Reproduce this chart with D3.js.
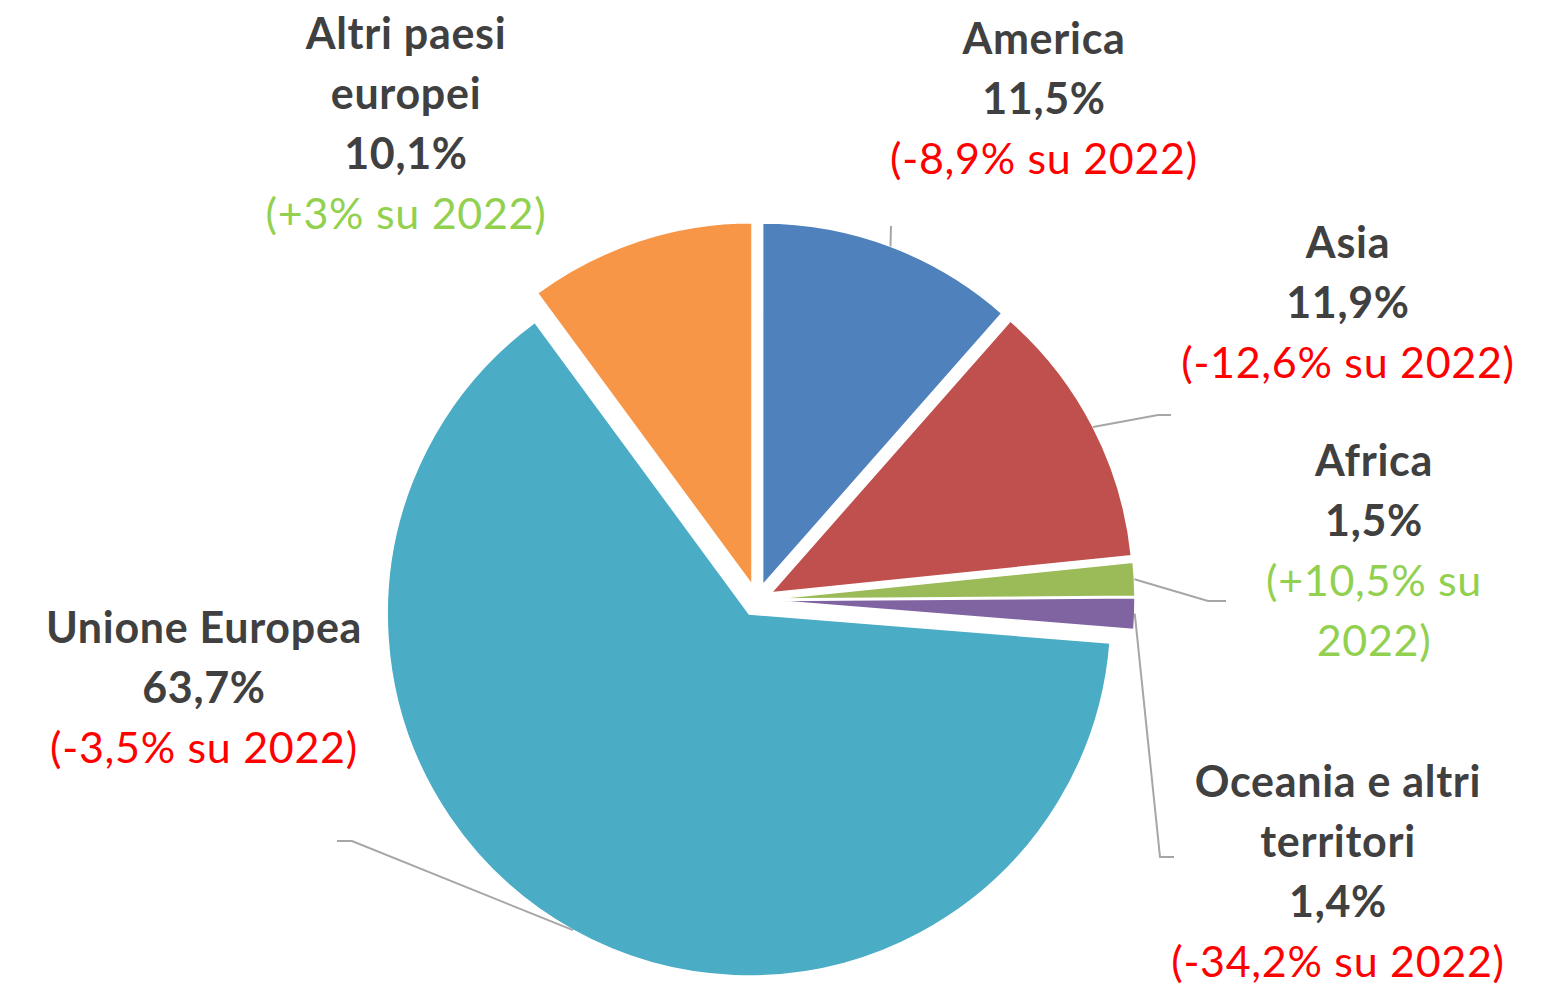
<!DOCTYPE html>
<html>
<head>
<meta charset="utf-8">
<script src="https://cdn.jsdelivr.net/npm/d3@7"></script>
<style>
  body { margin: 0; background: #fff; }
  svg { display: block; }
  text { font-family: Lato, "Open Sans", sans-serif; }
</style>
</head>
<body>
<svg id="chart" width="1560" height="985"></svg>
<script>
// data
const regions = ['America', 'Asia', 'Africa', 'Oceania e altri territori', 'Unione Europea', 'Altri paesi europei'];
const shares = [11.5, 11.9, 1.5, 1.4, 63.7, 10.1];
const changes = [-8.9, -12.6, 10.5, -34.2, -3.5, 3];
const nameLines = [['America'], ['Asia'], ['Africa'], ['Oceania e altri', 'territori'], ['Unione Europea'], ['Altri paesi', 'europei']];
const colors = ['#4f81bd', '#c0504d', '#9bbb59', '#8064a2', '#4bacc6', '#f79646'];

// layout for labels (center x, first baseline, leader elbow + end, wrap change text?)
const labelLayout = [
    { x: 1044, y: 54, elbow: [891, 226], end: [891, 226] },
    { x: 1348, y: 258, elbow: [1158, 415], end: [1171, 415] },
    { x: 1374, y: 476, elbow: [1208, 601], end: [1226, 601], wrap: true },
    { x: 1338, y: 797, elbow: [1160, 857], end: [1174, 857] },
    { x: 204, y: 643, elbow: [352, 841], end: [337, 841] },
    { x: 406, y: 49, elbow: null, end: null }
];

const cx = 757, cy = 600, radius = 362, explode = 16, lineH = 60;

const fmtPct = v => String(v).replace('.', ',') + '%';
const fmtChange = v => (v > 0 ? '+' : '') + fmtPct(v);

const data = regions.map((r, i) => ({ name: r, value: shares[i], change: changes[i], i: i }));

const svg = d3.select('#chart');
const g = svg.append('g').attr('transform', `translate(${cx},${cy})`);

const pie = d3.pie().sort(null).value(d => d.value);
const arc = d3.arc().innerRadius(0).outerRadius(radius);
const arcs = pie(data);

const offset = (a, r) => {
    const m = (a.startAngle + a.endAngle) / 2;
    return [Math.sin(m) * r, -Math.cos(m) * r];
};

// slices, each pulled out along its bisector
g.selectAll('path.slice')
    .data(arcs)
    .enter()
    .append('path')
    .attr('class', 'slice')
    .attr('d', arc)
    .attr('transform', d => `translate(${offset(d, explode)})`)
    .attr('fill', d => colors[d.data.i])
    .attr('stroke', '#fff')
    .attr('stroke-width', 1.5);

// leader lines
g.selectAll('polyline.leader')
    .data(arcs.filter(d => labelLayout[d.data.i].elbow))
    .enter()
    .append('polyline')
    .attr('class', 'leader')
    .attr('points', d => {
        const L = labelLayout[d.data.i];
        const o = offset(d, explode);
        const e = offset(d, radius);
        const start = [o[0] + e[0], o[1] + e[1]];
        const elbow = [L.elbow[0] - cx, L.elbow[1] - cy];
        const end = [L.end[0] - cx, L.end[1] - cy];
        return [start, elbow, end].map(p => p.join(',')).join(' ');
    })
    .attr('fill', 'none')
    .attr('stroke', '#a6a6a6')
    .attr('stroke-width', 2);

// labels
const labels = svg.selectAll('text.label')
    .data(data)
    .enter()
    .append('text')
    .attr('class', 'label')
    .attr('text-anchor', 'middle')
    .attr('font-size', 43)
    .attr('letter-spacing', 0.7);

labels.each(function (d) {
    const L = labelLayout[d.i];
    const t = d3.select(this);
    let lines = nameLines[d.i].map(s => ({ s: s, bold: true, fill: '#404040' }));
    lines.push({ s: fmtPct(d.value), bold: true, fill: '#404040' });
    const chColor = d.change > 0 ? '#92d050' : '#ff0000';
    const ch = '(' + fmtChange(d.change) + ' su 2022)';
    if (L.wrap) {
        lines.push({ s: '(' + fmtChange(d.change) + ' su', bold: false, fill: chColor });
        lines.push({ s: '2022)', bold: false, fill: chColor });
    } else {
        lines.push({ s: ch, bold: false, fill: chColor });
    }
    lines.forEach((ln, k) => {
        t.append('tspan')
            .attr('x', L.x)
            .attr('y', L.y + k * lineH)
            .attr('font-weight', ln.bold ? 700 : 400)
            .attr('fill', ln.fill)
            .text(ln.s);
    });
});
</script>
</body>
</html>
